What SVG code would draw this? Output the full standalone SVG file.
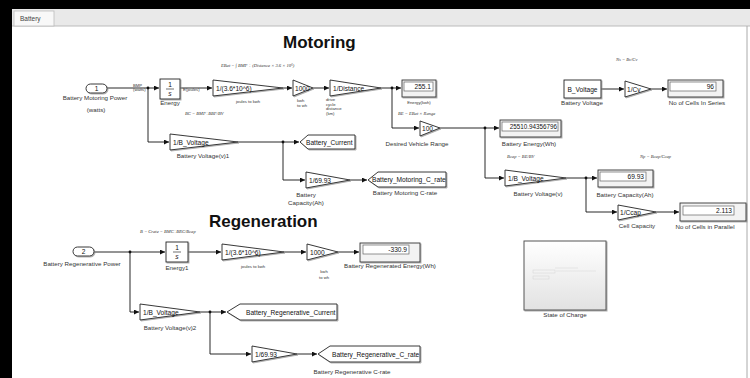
<svg xmlns="http://www.w3.org/2000/svg" width="750" height="378" viewBox="0 0 750 378">
<defs>
<style>
text{font-family:"Liberation Sans",Arial,sans-serif;fill:#111}
.blk{fill:#fff;stroke:#222;stroke-width:0.9;filter:url(#sh)}
.disp{fill:#f3f3f3;stroke:#333;stroke-width:0.9;filter:url(#sh)}
.fld{fill:#fff;stroke:#666;stroke-width:0.7}
.w{stroke:#111;stroke-width:0.9;fill:none;marker-end:url(#ar)}
.jn{fill:#111}
.bt{font-size:6.6px}
.lb{font-size:6.2px;text-anchor:middle;fill:#333}
.sm{font-size:4.2px;fill:#333}
.smc{font-size:4.2px;fill:#333;text-anchor:middle}
.fm{font-family:"Liberation Serif","Times New Roman",serif;font-style:italic;font-size:4.6px;fill:#333}
.val{font-size:6.6px;text-anchor:end}
.ttl{font-size:17px;font-weight:bold}
</style>
<marker id="ar" viewBox="0 0 6 6" refX="6" refY="3" markerWidth="5" markerHeight="5" orient="auto" markerUnits="userSpaceOnUse"><path d="M0,0 L6,3 L0,6 z" fill="#111"/></marker>
<filter id="sh" x="-10%" y="-10%" width="130%" height="140%"><feDropShadow dx="1" dy="1" stdDeviation="0.5" flood-color="#888" flood-opacity="0.7"/></filter>
<linearGradient id="gs" x1="0" y1="0" x2="0" y2="1"><stop offset="0" stop-color="#ffffff"/><stop offset="1" stop-color="#e2e2e2"/></linearGradient>
</defs>
<rect x="0" y="0" width="750" height="378" fill="#fff"/>
<rect x="0" y="0" width="750" height="9" fill="#000"/>
<rect x="0" y="0" width="12" height="378" fill="#000"/>
<rect x="12" y="9" width="738" height="17" fill="#e9e9e9"/>
<line x1="12" y1="26" x2="750" y2="26" stroke="#bbb" stroke-width="1"/>
<rect x="14" y="11" width="40" height="15" fill="#f8f8f8" stroke="#bbb" stroke-width="0.8"/>
<text x="20" y="21" style="font-size:6.5px;fill:#444">Battery</text>
<line x1="747" y1="26" x2="747" y2="378" stroke="#aaa" stroke-width="1"/>

<text class="ttl" x="283" y="48">Motoring</text>
<text class="ttl" x="209" y="227">Regeneration</text>
<text class="fm" x="221" y="67">EBat = ∫ BMP ÷ (Distance × 3.6 × 10⁶)</text>
<text class="fm" x="185" y="115">BC = BMP÷BBP/BV</text>
<text class="fm" x="398" y="115">BE = EBat × Range</text>
<text class="fm" x="507" y="158">Bcap = BE/BV</text>
<text class="fm" x="640" y="158">Np = Bcap/Ccap</text>
<text class="fm" x="616" y="61">Ns = Bv/Cv</text>
<text class="fm" x="140" y="233">B − Crate = BMC÷BRC/Bcap</text>

<g id="connectors">
<path class="w" d="M107 88 H159"/>
<path class="w" d="M180 88 H212"/>
<path class="w" d="M283 88 H292"/>
<path class="w" d="M313 88 H329"/>
<path class="w" d="M381 88 H401"/>
<path class="w" d="M392 88 V128 H419"/>
<path class="w" d="M440 128 H499"/>
<path class="w" d="M485 128 V178 H504"/>
<path class="w" d="M566 178 H597"/>
<path class="w" d="M586 178 V212 H617"/>
<path class="w" d="M656 212 H679"/>
<path class="w" d="M601 89 H624"/>
<path class="w" d="M651 89 H667"/>
<path class="w" d="M148 88 V142 H169"/>
<path class="w" d="M238 142 H299"/>
<path class="w" d="M283 142 V180 H305"/>
<path class="w" d="M350 180 H367"/>
<path class="w" d="M94 252 H165"/>
<path class="w" d="M188 252 H221"/>
<path class="w" d="M284 252 H306"/>
<path class="w" d="M338 252 H359"/>
<path class="w" d="M130 252 V312 H139"/>
<path class="w" d="M200 312 H226"/>
<path class="w" d="M210 312 V354 H251"/>
<path class="w" d="M297 354 H317"/>
<circle class="jn" cx="148" cy="88" r="1.4"/>
<circle class="jn" cx="392" cy="88" r="1.4"/>
<circle class="jn" cx="485" cy="128" r="1.4"/>
<circle class="jn" cx="586" cy="178" r="1.4"/>
<circle class="jn" cx="283" cy="142" r="1.4"/>
<circle class="jn" cx="130" cy="252" r="1.4"/>
<circle class="jn" cx="210" cy="312" r="1.4"/>
</g>

<g id="in1">
<rect class="blk" x="86" y="84" width="21" height="9" rx="4.5"/>
<text class="bt" x="96.5" y="90.8" text-anchor="middle">1</text>
<text class="lb" x="95" y="100">Battery Motoring Power</text>
<text class="lb" x="96" y="112">(watts)</text>
<text class="sm" x="133" y="86.5">BMP</text>
<text class="sm" x="133" y="91">(watts)</text>
</g>
<g id="energy">
<rect class="blk" x="160" y="79" width="20" height="20"/>
<text class="bt" x="170" y="87" text-anchor="middle">1</text>
<line x1="166" y1="89" x2="174" y2="89" stroke="#111" stroke-width="0.6"/>
<text class="bt" x="170" y="95.5" text-anchor="middle" font-style="italic">s</text>
<text class="lb" x="170" y="105">Energy</text>
<text class="sm" x="183" y="91">E(joules)</text>
</g>
<g id="gain_j2k">
<polygon class="blk" points="213,80 213,96 283,88"/>
<text class="bt" x="216" y="90.5">1/(3.6*10^6)</text>
<text class="smc" x="248" y="103">joules to kwh</text>
</g>
<g id="gain_1000">
<polygon class="blk" points="293,80 293,96 313,88"/>
<text class="bt" x="295" y="90.5">1000</text>
<text class="sm" x="297" y="102">kwh</text>
<text class="sm" x="297" y="107">to wh</text>
</g>
<g id="gain_dist">
<polygon class="blk" points="330,80 330,96 381,88"/>
<text class="bt" x="333" y="90.5">1/Distance</text>
<text class="sm" x="326" y="101">drive</text>
<text class="sm" x="326" y="105.5">cycle</text>
<text class="sm" x="326" y="110">distance</text>
<text class="sm" x="326" y="114.5">(km)</text>
</g>
<g id="disp_energy">
<rect class="disp" x="402" y="80" width="34" height="17"/>
<rect class="fld" x="404" y="82" width="29" height="9"/>
<text class="val" x="431" y="89">255.1</text>
<text class="smc" x="419" y="104">Energy(kwh)</text>
</g>
<g id="gain_range">
<polygon class="blk" points="420,121 420,136 440,128"/>
<text class="bt" x="422" y="130.5">100</text>
<text class="lb" x="417" y="146">Desired Vehicle Range</text>
</g>
<g id="disp_be">
<rect class="disp" x="500" y="120" width="61" height="17"/>
<rect class="fld" x="502" y="122" width="56" height="9"/>
<text class="val" x="557" y="129.2" style="font-size:6.3px">25510.94356796</text>
<text class="lb" x="529" y="146">Battery Energy(Wh)</text>
</g>
<g id="gain_bv">
<polygon class="blk" points="505,170 505,186 566,178"/>
<text class="bt" x="508" y="180.5">1/B_Voltage</text>
<text class="lb" x="538" y="196">Battery Voltage(v)</text>
</g>
<g id="disp_cap">
<rect class="disp" x="598" y="170" width="55" height="17"/>
<rect class="fld" x="600" y="172" width="46" height="9"/>
<text class="val" x="644" y="179">69.93</text>
<text class="lb" x="625" y="197">Battery Capacity(Ah)</text>
</g>
<g id="gain_ccap">
<polygon class="blk" points="618,205 618,220 656,212"/>
<text class="bt" x="620" y="214.5">1/Ccap</text>
<text class="lb" x="637" y="228">Cell Capacity</text>
</g>
<g id="disp_np">
<rect class="disp" x="680" y="203" width="66" height="18"/>
<rect class="fld" x="683" y="206" width="51" height="9"/>
<text class="val" x="732" y="213">2.113</text>
<text class="lb" x="705" y="229">No of Cells in Parallel</text>
</g>
<g id="const_bv">
<rect class="blk" x="564" y="80" width="37" height="18"/>
<text class="bt" x="582.5" y="91.5" text-anchor="middle">B_Voltage</text>
<text class="lb" x="582" y="105">Battery Voltage</text>
</g>
<g id="gain_cv">
<polygon class="blk" points="625,81 625,97 651,89"/>
<text class="bt" x="627" y="91.5">1/Cv</text>
</g>
<g id="disp_ns">
<rect class="disp" x="668" y="80" width="55" height="17"/>
<rect class="fld" x="670" y="82" width="46" height="9"/>
<text class="val" x="714" y="89">96</text>
<text class="lb" x="697" y="105">No of Cells In Series</text>
</g>
<g id="gain_bv1">
<polygon class="blk" points="170,134 170,150 238,142"/>
<text class="bt" x="173" y="144.5">1/B_Voltage</text>
<text class="lb" x="203" y="158">Battery Voltage(v)1</text>
</g>
<g id="goto_current">
<polygon class="blk" points="300,142 308,135 355,135 355,149 308,149"/>
<text class="bt" x="306" y="144.5">Battery_Current</text>
</g>
<g id="gain_cap1">
<polygon class="blk" points="306,172 306,188 350,180"/>
<text class="bt" x="309" y="182.5">1/69.93</text>
<text class="lb" x="306" y="197" text-anchor="start">Battery</text>
<text class="lb" x="306" y="205" text-anchor="start">Capacity(Ah)</text>
</g>
<g id="goto_mcrate">
<polygon class="blk" points="368,180 378,172 446,172 446,187 378,187"/>
<text class="bt" x="372" y="182.3">Battery_Motoring_C_rate</text>
<text class="lb" x="405" y="195">Battery Motoring C-rate</text>
</g>

<g id="in2">
<rect class="blk" x="73" y="247" width="21" height="9" rx="4.5"/>
<text class="bt" x="83.5" y="253.8" text-anchor="middle">2</text>
<text class="lb" x="82" y="266">Battery Regenerative Power</text>
</g>
<g id="energy1">
<rect class="blk" x="166" y="242" width="22" height="20"/>
<text class="bt" x="177" y="250" text-anchor="middle">1</text>
<line x1="173" y1="252" x2="181" y2="252" stroke="#111" stroke-width="0.6"/>
<text class="bt" x="177" y="258.5" text-anchor="middle" font-style="italic">s</text>
<text class="lb" x="177" y="270">Energy1</text>
</g>
<g id="gain_j2k2">
<polygon class="blk" points="222,244 222,260 284,252"/>
<text class="bt" x="225" y="254.5">1/(3.6*10^6)</text>
<text class="smc" x="253" y="268">joules to kwh</text>
</g>
<g id="gain_1000b">
<polygon class="blk" points="307,244 307,260 338,252"/>
<text class="bt" x="310" y="254.5">1000</text>
<text class="smc" x="324" y="273">kwh</text>
<text class="smc" x="324" y="278.5">to wh</text>
</g>
<g id="disp_regen">
<rect class="disp" x="360" y="243" width="60" height="19"/>
<rect class="fld" x="363" y="245" width="46" height="9"/>
<text class="val" x="407" y="252">-330.9</text>
<text class="lb" x="390" y="268">Battery Regenerated Energy(Wh)</text>
</g>
<g id="gain_bv2">
<polygon class="blk" points="140,304 140,320 200,312"/>
<text class="bt" x="143" y="314.5">1/B_Voltage</text>
<text class="lb" x="170" y="330">Battery Voltage(v)2</text>
</g>
<g id="goto_rcurrent">
<polygon class="blk" points="227,312 240,304 337,304 337,320 240,320"/>
<text class="bt" x="246" y="314.5">Battery_Regenerative_Current</text>
</g>
<g id="gain_cap2">
<polygon class="blk" points="252,346 252,362 297,354"/>
<text class="bt" x="255" y="356.5">1/69.93</text>
</g>
<g id="goto_rcrate">
<polygon class="blk" points="318,354 330,346 420,346 420,362 330,362"/>
<text class="bt" x="332" y="356.5">Battery_Regenerative_C_rate</text>
<text class="lb" x="352" y="374">Battery Regenerative C-rate</text>
</g>

<g id="soc">
<rect x="524" y="241" width="82" height="69" fill="url(#gs)" stroke="#555" stroke-width="1" filter="url(#sh)"/>
<g stroke="#d4d4d4" stroke-width="0.5" fill="none">
<rect x="533" y="270" width="22" height="3"/>
<rect x="533" y="276" width="16" height="3"/>
<path d="M556 271 H596"/>
<path d="M555 268 H578"/>
</g>
<text class="lb" x="565" y="317">State of Charge</text>
</g>
</svg>
